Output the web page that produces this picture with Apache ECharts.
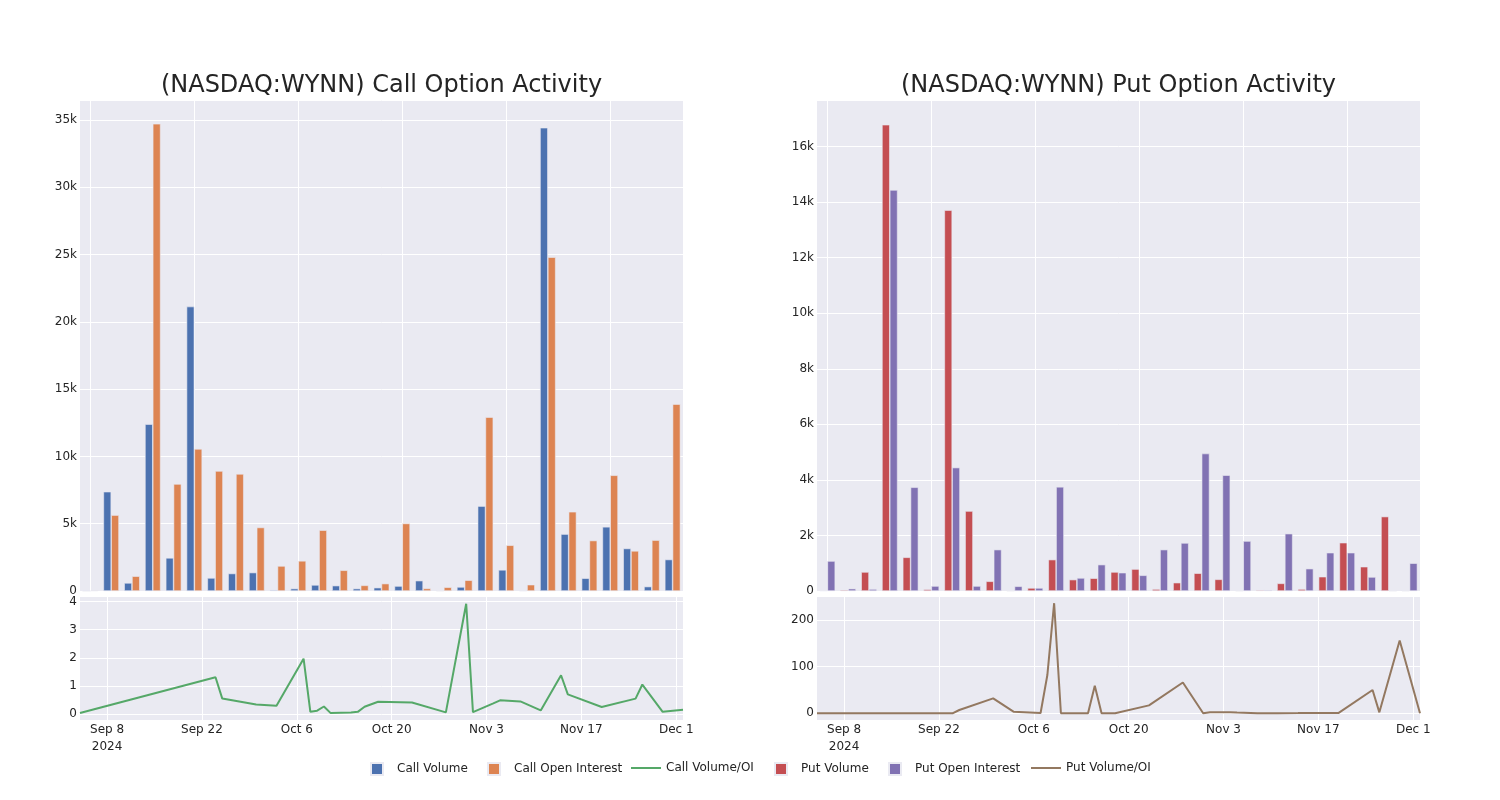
<!DOCTYPE html>
<html><head><meta charset="utf-8">
<script src="https://cdn.jsdelivr.net/npm/echarts@6/dist/echarts.min.js"></script>
<style>html,body{margin:0;padding:0;background:#fff}#c{width:1500px;height:800px}</style>
</head><body><div id="c"></div>
<script>
// ---------- data ----------
const dates = ['2024-09-04','2024-09-24','2024-09-25','2024-09-30','2024-10-03','2024-10-07','2024-10-08','2024-10-09','2024-10-10','2024-10-11','2024-10-14','2024-10-15','2024-10-16','2024-10-18','2024-10-23','2024-10-28','2024-10-31','2024-11-01','2024-11-04','2024-11-05','2024-11-08','2024-11-11','2024-11-14','2024-11-15','2024-11-20','2024-11-25','2024-11-26','2024-11-29','2024-12-02'];
const callVolume = [0, 7380, 600, 12400, 2460, 21140, 970, 1300, 1370, 75, 180, 450, 400, 180, 250, 370, 770, 20, 300, 6310, 1570, 30, 34430, 4230, 950, 4770, 3160, 330, 2340];
const callOpenInterest = [50, 5640, 1100, 34720, 7950, 10560, 8920, 8700, 4720, 1860, 2240, 4520, 1540, 420, 550, 5020, 190, 280, 800, 12920, 3400, 470, 24810, 5890, 3750, 8600, 2980, 3780, 13890];
const callVolumeOI = [0.04, 1.31, 0.55, 0.34, 0.30, 1.97, 0.08, 0.12, 0.27, 0.035, 0.06, 0.08, 0.26, 0.44, 0.41, 0.06, 3.92, 0.07, 0.38, 0.49, 0.45, 0.13, 1.38, 0.70, 0.25, 0.55, 1.05, 0.08, 0.15];
const putVolume = [20, 40, 685, 16790, 1213, 60, 13715, 2880, 350, 10, 110, 1130, 410, 460, 685, 790, 70, 300, 640, 420, 10, 35, 275, 70, 515, 1740, 875, 2680, 10];
const putOpenInterest = [1080, 85, 70, 14440, 3735, 180, 4444, 180, 1490, 170, 110, 3750, 470, 950, 660, 565, 1490, 1730, 4950, 4170, 1800, 35, 2065, 805, 1380, 1380, 505, 10, 1000];
const putVolumeOI = [0, 0, 7, 32, 3.5, 0.5, 82, 236, 0, 0, 0, 59, 0, 0, 17, 66, 0, 2, 2, 1.5, 0.3, 0.3, 0.4, 0.5, 0.8, 50, 2, 156, 0];
const dateTicks = ['2024-09-08','2024-09-22','2024-10-06','2024-10-20','2024-11-03','2024-11-17','2024-12-01'];
const callRatioTicks = [0, 1, 2, 3, 4];
const putRatioTicks = [0, 100, 200];
const barGridCategories = [dates[0], dates[5], dates[10], dates[15], dates[20], dates[25]];
const titles = ['(NASDAQ:WYNN) Call Option Activity', '(NASDAQ:WYNN) Put Option Activity'];

// ---------- helpers ----------
const FONT = 'DejaVu Sans';
const TXT = '#242424';
const BG = '#EAEAF2';
const MONTHS = ['Jan','Feb','Mar','Apr','May','Jun','Jul','Aug','Sep','Oct','Nov','Dec'];
const ts = s => new Date(s + 'T00:00:00Z').getTime();
const tickTs = dateTicks.map(ts);
const fmtDate = v => {
  const d = new Date(v);
  let s = MONTHS[d.getUTCMonth()] + ' ' + d.getUTCDate();
  if (v === tickTs[0]) s += '\n' + d.getUTCFullYear();
  return s;
};
const kFmt = v => v === 0 ? '0' : (v / 1000) + 'k';
const pairs = arr => arr.map((v, i) => [ts(dates[i]), v]);

const grids = [
  {left: 80, top: 100, width: 603, height: 491},
  {left: 80, top: 597, width: 603, height: 123},
  {left: 817, top: 100, width: 603, height: 491},
  {left: 817, top: 597, width: 603, height: 123}
].map(g => Object.assign(g, {show: true, backgroundColor: BG, borderWidth: 0, containLabel: false}));

const axLabel = {color: TXT, fontFamily: FONT, fontSize: 12};
const whiteSplit = {show: true, lineStyle: {color: '#ffffff', width: 1}};

function catX(gi) {
  return {type: 'category', gridIndex: gi, data: dates, boundaryGap: true,
    axisLine: {show: false}, axisTick: {show: false}, axisLabel: {show: false}, splitLine: {show: false}};
}
function timeX(gi) {
  return {type: 'value', gridIndex: gi, min: ts(dates[0]), max: ts(dates[dates.length - 1]),
    axisLine: {show: false},
    axisTick: {show: false, customValues: tickTs},
    axisLabel: Object.assign({customValues: tickTs, formatter: fmtDate, margin: 1, lineHeight: 17}, axLabel),
    splitLine: whiteSplit};
}
function barY(gi, max, interval) {
  return {type: 'value', gridIndex: gi, min: 0, max: max, interval: interval,
    axisLine: {show: false}, axisTick: {show: false},
    axisLabel: Object.assign({formatter: kFmt, margin: 3, showMaxLabel: false}, axLabel), splitLine: whiteSplit};
}
function lineY(gi, min, max, ticks) {
  return {type: 'value', gridIndex: gi, min: min, max: max,
    axisLine: {show: false}, axisTick: {show: false, customValues: ticks},
    axisLabel: Object.assign({customValues: ticks, margin: 3}, axLabel), splitLine: whiteSplit};
}

const barStyle = c => ({color: c, borderColor: BG, borderWidth: 0.6});
const vLines = {
  silent: true, z: 1, symbol: ['none', 'none'], label: {show: false},
  lineStyle: {color: '#ffffff', width: 1, type: 'solid'},
  emphasis: {disabled: true},
  data: barGridCategories.map(d => ({xAxis: d}))
};
const gridHelper = (xi, yi) => ({type: 'line', xAxisIndex: xi, yAxisIndex: yi, data: [], silent: true,
  symbol: 'none', z: 1, markLine: vLines});

const series = [
  gridHelper(0, 0),
  {name: 'Call Volume', type: 'bar', xAxisIndex: 0, yAxisIndex: 0, data: callVolume, itemStyle: barStyle('#4C72B0'),
    barGap: '0%', barCategoryGap: '25%', z: 2},
  {name: 'Call Open Interest', type: 'bar', xAxisIndex: 0, yAxisIndex: 0, data: callOpenInterest, itemStyle: barStyle('#DD8452'),
    barGap: '0%', barCategoryGap: '25%', z: 2},
  {name: 'Call Volume/OI', type: 'line', xAxisIndex: 1, yAxisIndex: 1, data: pairs(callVolumeOI),
    symbol: 'none', lineStyle: {color: '#55A868', width: 2}, itemStyle: {color: '#55A868'}},
  gridHelper(2, 2),
  {name: 'Put Volume', type: 'bar', xAxisIndex: 2, yAxisIndex: 2, data: putVolume, itemStyle: barStyle('#C44E52'),
    barGap: '0%', barCategoryGap: '25%', z: 2},
  {name: 'Put Open Interest', type: 'bar', xAxisIndex: 2, yAxisIndex: 2, data: putOpenInterest, itemStyle: barStyle('#8172B3'),
    barGap: '0%', barCategoryGap: '25%', z: 2},
  {name: 'Put Volume/OI', type: 'line', xAxisIndex: 3, yAxisIndex: 3, data: pairs(putVolumeOI),
    symbol: 'none', lineStyle: {color: '#937860', width: 2}, itemStyle: {color: '#937860'}}
];

const SQ = 'path://M0,0M21,12M0,0h12v12h-12z';
const LN = 'path://M0,0M30,12M0,5h30v2h-30z';
const legendItems = [
  {name: 'Call Volume', left: 370, icon: SQ, w: 21},
  {name: 'Call Open Interest', left: 487, icon: SQ, w: 21},
  {name: 'Call Volume/OI', left: 631, icon: LN, w: 30},
  {name: 'Put Volume', left: 774, icon: SQ, w: 21},
  {name: 'Put Open Interest', left: 888, icon: SQ, w: 21},
  {name: 'Put Volume/OI', left: 1031, icon: LN, w: 30}
];
const legends = legendItems.map(it => ({
  data: [{name: it.name, icon: it.icon}],
  left: it.left, top: 762, itemWidth: it.w, itemHeight: 12, padding: 0, itemGap: 0,
  selectedMode: false,
  textStyle: {color: TXT, fontFamily: FONT, fontSize: 12}
}));

const option = {
  animation: false,
  backgroundColor: '#ffffff',
  textStyle: {fontFamily: FONT},
  title: [
    {text: titles[0], left: 381.5, top: 74, textAlign: 'center', padding: 0,
      textStyle: {fontFamily: FONT, fontSize: 24, fontWeight: 'normal', color: TXT}},
    {text: titles[1], left: 1118.5, top: 74, textAlign: 'center', padding: 0,
      textStyle: {fontFamily: FONT, fontSize: 24, fontWeight: 'normal', color: TXT}}
  ],
  legend: legends,
  grid: grids,
  xAxis: [catX(0), timeX(1), catX(2), timeX(3)],
  yAxis: [barY(0, 36490, 5000), lineY(1, -0.21, 4.16, callRatioTicks), barY(2, 17680, 2000), lineY(3, -14.4, 249.3, putRatioTicks)],
  series: series
};
const chart = echarts.init(document.getElementById('c'), null, {renderer: 'canvas'});
chart.setOption(option);
</script></body></html>
